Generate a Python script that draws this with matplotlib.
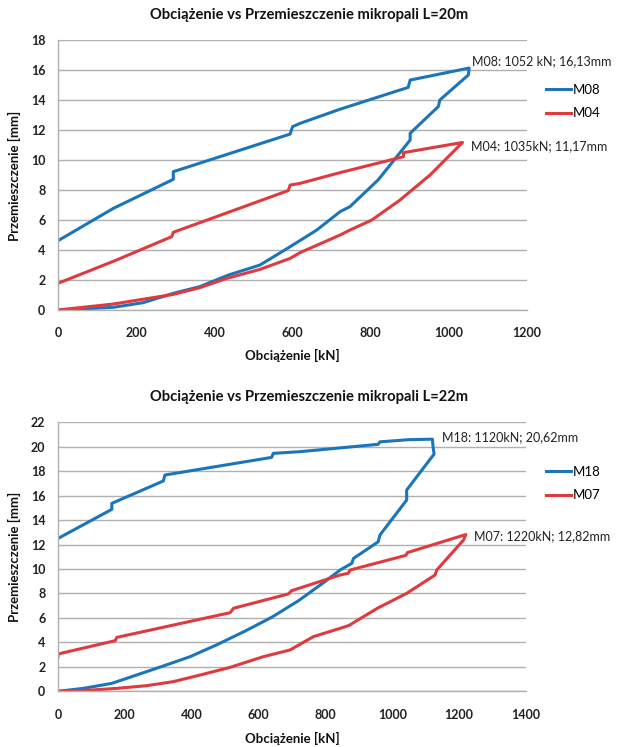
import matplotlib
matplotlib.use("Agg")
import matplotlib.pyplot as plt

plt.rcParams['font.family'] = ['Lato', 'DejaVu Sans']

# ---- Data: top chart (L=20m) ----
m08_load = [0, 142, 218, 295, 363, 436, 517, 594, 662, 722, 747, 819, 901, 901, 973, 977, 1050, 1052,
            901, 896, 721, 619, 600, 594, 295, 295, 142, 0]
m08_disp = [0, 0.18, 0.49, 1.11, 1.56, 2.33, 3.0, 4.22, 5.33, 6.56, 6.89, 8.67, 11.33, 11.78, 13.56, 14.0, 15.67, 16.13,
            15.33, 14.84, 13.38, 12.44, 12.22, 11.73, 9.22, 8.71, 6.78, 4.62]

m04_load = [0, 142, 295, 363, 432, 517, 594, 619, 722, 747, 803, 875, 952, 1035,
            884, 884, 722, 619, 594, 589, 295, 291, 146, 0]
m04_disp = [0, 0.4, 1.04, 1.49, 2.11, 2.71, 3.44, 3.82, 5.0, 5.33, 6.0, 7.33, 9.0, 11.17,
            10.49, 10.22, 9.16, 8.44, 8.33, 7.96, 5.18, 4.89, 3.29, 1.78]

# ---- Data: bottom chart (L=22m) ----
m18_load = [0, 76, 161, 235, 315, 395, 474, 560, 639, 719, 794, 844, 879, 884, 958, 963, 1043, 1043, 1125, 1122, 1120,
            1050, 963, 958, 725, 644, 639, 320, 315, 161, 161, 0]
m18_disp = [0, 0.24, 0.65, 1.33, 2.07, 2.83, 3.79, 4.93, 6.05, 7.4, 8.88, 9.92, 10.47, 10.87, 12.23, 12.78, 15.64, 16.46, 19.4, 20.0, 20.62,
            20.58, 20.4, 20.2, 19.6, 19.46, 19.13, 17.69, 17.2, 15.37, 14.88, 12.5]

m07_load = [0, 98, 176, 265, 345, 425, 515, 614, 694, 764, 844, 870, 956, 1043, 1128, 1133, 1213, 1220,
            1045, 1041, 874, 868, 844, 699, 689, 525, 515, 176, 171, 0, 0]
m07_disp = [0, 0.1, 0.24, 0.46, 0.79, 1.33, 1.96, 2.83, 3.38, 4.47, 5.15, 5.38, 6.8, 8.01, 9.51, 9.92, 12.37, 12.82,
            11.34, 11.12, 9.92, 9.65, 9.51, 8.23, 7.96, 6.79, 6.43, 4.41, 4.14, 3.05, 2.83]

titles = ["Obciążenie vs Przemieszczenie mikropali L=20m",
          "Obciążenie vs Przemieszczenie mikropali L=22m"]
xlabel = "Obciążenie [kN]"
ylabel = "Przemieszczenie [mm]"
top_labels = ["M08", "M04"]
bot_labels = ["M18", "M07"]
top_notes = ["M08: 1052 kN; 16,13mm", "M04: 1035kN; 11,17mm"]
bot_notes = ["M18: 1120kN; 20,62mm", "M07: 1220kN; 12,82mm"]

BLUE = '#1a75bb'
RED = '#e0393e'
GRID = '#b0b0b0'

W, H = 617, 747
fig = plt.figure(figsize=(W / 100, H / 100), dpi=100)


def fx(px):
    return px / W


def fy(py):
    return 1 - py / H


def style(ax, xmax, ymax, xstep, ystep, xpad):
    ax.set_xlim(0, xmax)
    ax.set_ylim(0, ymax)
    ax.set_xticks(range(0, xmax + 1, xstep))
    ax.set_yticks(range(0, ymax + 1, ystep))
    ax.grid(axis='y', color=GRID, linewidth=1.0)
    ax.set_axisbelow(True)
    for s in ['top', 'right']:
        ax.spines[s].set_visible(False)
    for s in ['left', 'bottom']:
        ax.spines[s].set_color(GRID)
        ax.spines[s].set_linewidth(1.0)
    ax.tick_params(axis='both', length=0, labelsize=9, colors='#222222')
    ax.tick_params(axis='y', pad=9)
    ax.tick_params(axis='x', pad=xpad)
    for lab in ax.get_xticklabels() + ax.get_yticklabels():
        lab.set_fontweight('bold')


NOTE_FS = 9

# top axes
ax1 = fig.add_axes([fx(58), fy(310), fx(527 - 58), (310 - 40) / H])
ax1.plot(m08_load, m08_disp, color=BLUE, lw=2.2, label=top_labels[0], solid_joinstyle='round')
ax1.plot(m04_load, m04_disp, color=RED, lw=2.2, label=top_labels[1], solid_joinstyle='round')
style(ax1, 1200, 18, 200, 2, 12)
ax1.annotate(top_notes[0], xy=(m08_load[17], m08_disp[17]), xytext=(3, 7), textcoords='offset pixels',
             ha='left', va='center', fontsize=NOTE_FS, color='#222222', annotation_clip=False)
ax1.annotate(top_notes[1], xy=(m04_load[13], m04_disp[13]), xytext=(8, -3.5), textcoords='offset pixels',
             ha='left', va='center', fontsize=NOTE_FS, color='#222222', annotation_clip=False)
ax1.legend(loc='upper left', bbox_to_anchor=(fx(546), fy(84)), bbox_transform=fig.transFigure,
           frameon=False, fontsize=9.5, handlelength=1.9, handletextpad=0.15, labelspacing=0.85,
           borderpad=0, borderaxespad=0)

# bottom axes
ax2 = fig.add_axes([fx(58), fy(691.3), fx(526 - 58), (691.3 - 422.3) / H])
ax2.plot(m18_load, m18_disp, color=BLUE, lw=2.2, label=bot_labels[0], solid_joinstyle='round')
ax2.plot(m07_load, m07_disp, color=RED, lw=2.2, label=bot_labels[1], solid_joinstyle='round')
style(ax2, 1400, 22, 200, 2, 13)
ax2.annotate(bot_notes[0], xy=(m18_load[20], m18_disp[20]), xytext=(10, 2), textcoords='offset pixels',
             ha='left', va='center', fontsize=NOTE_FS, color='#222222', annotation_clip=False)
ax2.annotate(bot_notes[1], xy=(m07_load[17], m07_disp[17]), xytext=(8, -1.5), textcoords='offset pixels',
             ha='left', va='center', fontsize=NOTE_FS, color='#222222', annotation_clip=False)
ax2.legend(loc='upper left', bbox_to_anchor=(fx(546), fy(466)), bbox_transform=fig.transFigure,
           frameon=False, fontsize=9.5, handlelength=1.9, handletextpad=0.15, labelspacing=0.85,
           borderpad=0, borderaxespad=0)

# titles and axis labels
fig.text(fx(309), fy(15), titles[0], ha='center', va='center', fontsize=10.6, fontweight='bold', color='#111111')
fig.text(fx(309), fy(397), titles[1], ha='center', va='center', fontsize=10.6, fontweight='bold', color='#111111')
fig.text(fx(292), fy(355), xlabel, ha='center', va='center', fontsize=9.5, fontweight='bold', color='#111111')
fig.text(fx(292), fy(738), xlabel, ha='center', va='center', fontsize=9.5, fontweight='bold', color='#111111')
fig.text(fx(14), fy(176), ylabel, ha='center', va='center', rotation=90, fontsize=9.5, fontweight='bold', color='#111111')
fig.text(fx(14), fy(557), ylabel, ha='center', va='center', rotation=90, fontsize=9.5, fontweight='bold', color='#111111')

fig.savefig('out.png', dpi=100)
